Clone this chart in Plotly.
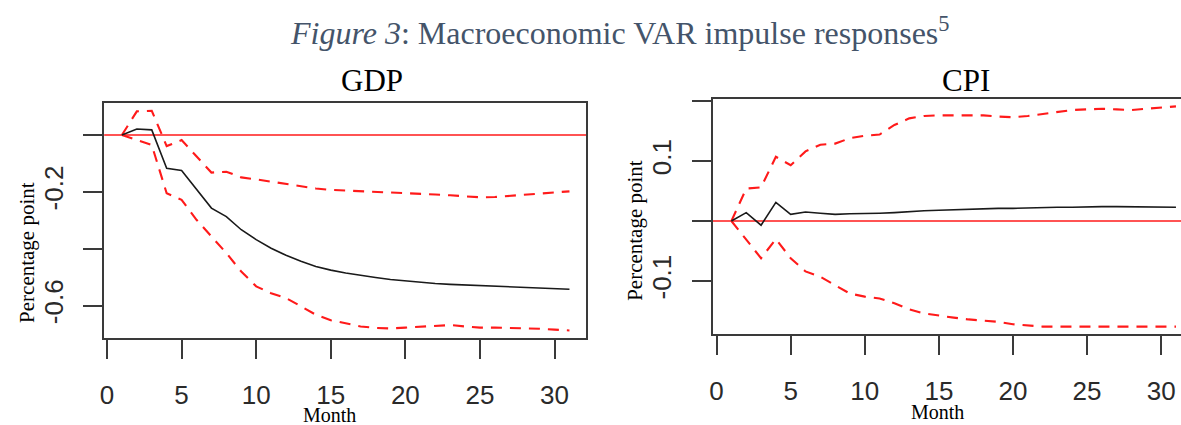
import plotly.graph_objects as go

# Months after the shock
months = list(range(1, 32))

# GDP impulse response and confidence band (percentage points)
gdp_irf = [0.0, 0.021, 0.018, -0.117, -0.125, -0.193, -0.257, -0.287, -0.333, -0.368,
           -0.398, -0.423, -0.444, -0.462, -0.475, -0.485, -0.494, -0.501, -0.508, -0.513,
           -0.518, -0.522, -0.525, -0.527, -0.530, -0.532, -0.535, -0.537, -0.538, -0.539, -0.542]
gdp_upper = [0.0, 0.083, 0.085, -0.039, -0.018, -0.076, -0.132, -0.129, -0.149, -0.156,
             -0.164, -0.172, -0.181, -0.188, -0.193, -0.195, -0.197, -0.200, -0.201, -0.204,
             -0.206, -0.209, -0.212, -0.216, -0.219, -0.218, -0.214, -0.210, -0.206, -0.201, -0.198]
gdp_lower = [0.0, -0.018, -0.035, -0.205, -0.228, -0.298, -0.357, -0.415, -0.480, -0.532,
             -0.556, -0.573, -0.602, -0.632, -0.651, -0.663, -0.673, -0.678, -0.680, -0.677,
             -0.674, -0.669, -0.668, -0.673, -0.677, -0.677, -0.678, -0.679, -0.681, -0.684, -0.687]

# CPI impulse response and confidence band (percentage points)
cpi_irf = [0.0, 0.014, -0.007, 0.031, 0.011, 0.015, 0.013, 0.011, 0.012, 0.012,
           0.013, 0.014, 0.016, 0.017, 0.018, 0.019, 0.020, 0.021, 0.021, 0.021,
           0.022, 0.022, 0.023, 0.023, 0.024, 0.024, 0.024, 0.024, 0.024, 0.024, 0.023]
cpi_upper = [0.0, 0.054, 0.056, 0.107, 0.093, 0.116, 0.127, 0.129, 0.138, 0.142,
             0.144, 0.160, 0.171, 0.175, 0.176, 0.176, 0.177, 0.176, 0.174, 0.173,
             0.175, 0.178, 0.182, 0.185, 0.186, 0.187, 0.186, 0.185, 0.187, 0.189, 0.191]
cpi_lower = [0.0, -0.032, -0.062, -0.030, -0.062, -0.084, -0.093, -0.107, -0.121, -0.126,
             -0.129, -0.137, -0.147, -0.154, -0.158, -0.161, -0.164, -0.166, -0.168, -0.172,
             -0.174, -0.176, -0.176, -0.176, -0.176, -0.176, -0.176, -0.176, -0.176, -0.176, -0.176]

# Axis ticks: labelled ticks and the unlabelled ones in between
x_ticks = [0, 5, 10, 15, 20, 25, 30]
gdp_yticks = [-0.2, -0.6]
gdp_ylabels = ["-0.2", "-0.6"]
gdp_yticks_unlabelled = [0, -0.4]
cpi_yticks = [-0.1, 0.1]
cpi_ylabels = ["-0.1", "0.1"]
cpi_yticks_unlabelled = [0, 0.2]

W, H = 1181, 425
RED = "#ff1a1a"
AXIS = "#3a3a3a"
SERIF = "Liberation Serif, Times New Roman, serif"
SANS = "Liberation Sans, Arial, sans-serif"


def px(x):
    return x / W


def py(y):
    return (H - y) / H


fig = go.Figure()

panels = [
    ("x", "y", gdp_irf, gdp_upper, gdp_lower),
    ("x2", "y2", cpi_irf, cpi_upper, cpi_lower),
]
for xa, ya, irf, up, lo in panels:
    # zero reference line across the whole panel
    fig.add_trace(go.Scatter(x=[-5, 40], y=[0, 0], mode="lines", xaxis=xa, yaxis=ya,
                             line=dict(color=RED, width=1.7), hoverinfo="skip"))
    for band in (up, lo):
        fig.add_trace(go.Scatter(x=months, y=band, mode="lines", xaxis=xa, yaxis=ya,
                                 line=dict(color=RED, width=2.1, dash="11px,8px")))
    fig.add_trace(go.Scatter(x=months, y=irf, mode="lines", xaxis=xa, yaxis=ya,
                             line=dict(color="#1a1a1a", width=1.6)))

xcommon = dict(tickmode="array", tickvals=x_ticks, ticks="outside", ticklen=19, tickwidth=1.5,
               tickcolor=AXIS, showline=True, linecolor=AXIS, linewidth=1.6,
               showgrid=False, zeroline=False,
               tickfont=dict(family=SANS, size=26, color="#2a2a2a"),
               ticklabelstandoff=14)
ycommon = dict(tickmode="array", ticks="outside", ticklen=19, tickwidth=1.5, tickcolor=AXIS,
               showline=True, linecolor=AXIS, linewidth=1.6,
               showgrid=False, zeroline=False, tickangle=-90,
               tickfont=dict(family=SANS, size=26, color="#2a2a2a"),
               ticklabelstandoff=10)


def minor_ticks(vals):
    return dict(tickmode="array", tickvals=vals, ticks="outside", ticklen=19,
                tickwidth=1.5, tickcolor=AXIS, showgrid=False)


fig.update_layout(
    width=W, height=H,
    margin=dict(l=0, r=0, t=0, b=0),
    paper_bgcolor="white", plot_bgcolor="white",
    showlegend=False,
    xaxis=dict(domain=[px(100.5), px(584.3)], range=[-0.19, 32.13], mirror=True,
               anchor="y", **xcommon),
    yaxis=dict(domain=[py(338.3), py(103.3)], range=[-0.7146, 0.1114], mirror=True,
               anchor="x", tickvals=gdp_yticks, ticktext=gdp_ylabels,
               minor=minor_ticks(gdp_yticks_unlabelled), **ycommon),
    xaxis2=dict(domain=[px(711), 1.0], range=[-0.27, 31.34], mirror=True,
                anchor="y2", **xcommon),
    yaxis2=dict(domain=[py(334.3), py(99)], range=[-0.1888, 0.2033], mirror=False,
                anchor="x2", tickvals=cpi_yticks, ticktext=cpi_ylabels,
                minor=minor_ticks(cpi_yticks_unlabelled), **ycommon),
)

annotations = [
    # figure caption
    dict(x=px(285), y=py(31), xanchor="left", yanchor="middle",
         text="<i>Figure 3</i>: Macroeconomic VAR impulse responses<sup>5</sup>",
         font=dict(family=SERIF, size=32, color="#44546a")),
    # panel titles
    dict(x=px(369), y=py(81), text="GDP", font=dict(family=SERIF, size=31, color="black")),
    dict(x=px(965), y=py(80), text="CPI", font=dict(family=SERIF, size=31, color="black")),
    # axis titles
    dict(x=px(23), y=py(252), text="Percentage point", textangle=-90,
         font=dict(family=SERIF, size=21, color="black")),
    dict(x=px(633), y=py(230), text="Percentage point", textangle=-90,
         font=dict(family=SERIF, size=21, color="black")),
    dict(x=px(327), y=py(415), text="Month", font=dict(family=SERIF, size=20, color="black")),
    dict(x=px(937), y=py(412), text="Month", font=dict(family=SERIF, size=20, color="black")),
]
for a in annotations:
    a.update(xref="paper", yref="paper", showarrow=False)
    a.setdefault("xanchor", "center")
    a.setdefault("yanchor", "middle")
fig.update_layout(annotations=annotations)

fig.write_html("out.html")
